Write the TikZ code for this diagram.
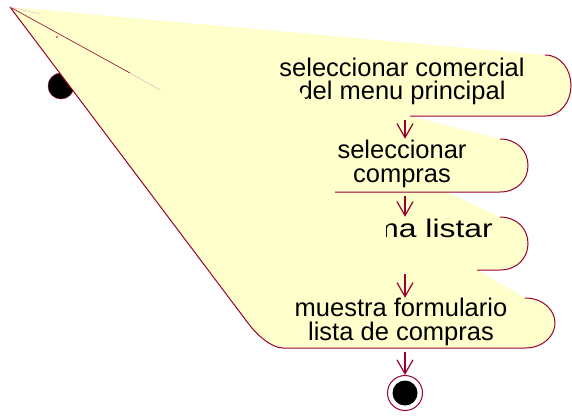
\documentclass[tikz,border=0pt]{standalone}
\usepackage{fontspec}
\setmainfont{Liberation Sans}
\usetikzlibrary{arrows.meta}
\definecolor{roseline}{RGB}{153,0,51}
\definecolor{rosefill}{RGB}{255,255,204}

\begin{document}
\begin{tikzpicture}[x=1pt, y=-1pt,
    edge/.style={roseline, line width=1pt},
    flow/.style={roseline, line width=1.2pt, shorten <=4pt,
      -{Straight Barb[length=14pt, width=16pt, line width=1.2pt]}},
    actbox/.style={inner sep=0pt, minimum width=150pt},
    acttext/.style={inner sep=0pt, align=center, font=\fontsize{25.5}{23.5}\selectfont},
    patch/.style={fill=rosefill, draw=none}]
    \useasboundingbox (0,0) rectangle (572,416);

    % initial state, half hidden by the fill
    \node[circle, draw=roseline, fill=black, minimum size=26pt, inner sep=0pt] (ini) at (61,86) {};

    % the broken fill of the activities
    \fill[rosefill] (10,7) -- (545,55)
        .. controls (561,55) and (571,70) .. (571,85.5)
        .. controls (571,101) and (561,116) .. (545,116) -- (410,116) -- (500,139)
        .. controls (517,139) and (528,151) .. (528,165.5)
        .. controls (528,180) and (517,192) .. (500,192) -- (447,192) -- (500,217)
        .. controls (517,217) and (528,229) .. (528,243.5)
        .. controls (528,258) and (517,270) .. (500,270) -- (477,270) -- (525,298)
        .. controls (543,298) and (555,310) .. (555,323)
        .. controls (555,336) and (543,348) .. (525,348) -- (283,348)
        .. controls (271,348) and (256,334) .. (248,323) -- cycle;

    % outlines
    \draw[edge] (545,55) .. controls (561,55) and (571,70) .. (571,85.5)
        .. controls (571,101) and (561,116) .. (545,116) -- (410,116);
    \draw[edge] (500,139) .. controls (517,139) and (528,151) .. (528,165.5)
        .. controls (528,180) and (517,192) .. (500,192) -- (335,192);
    \draw[edge] (500,217) .. controls (517,217) and (528,229) .. (528,243.5)
        .. controls (528,258) and (517,270) .. (500,270) -- (477,270);
    \draw[edge] (525,298) .. controls (543,298) and (555,310) .. (555,323)
        .. controls (555,336) and (543,348) .. (525,348) -- (283,348)
        .. controls (271,348) and (256,334) .. (248,323) -- (10,7);
    \draw[roseline, line width=0.6pt] (10,7) -- (130,73);
    \draw[roseline!30, line width=0.5pt] (130,73) -- (160,90);
    \draw[roseline!25, line width=0.5pt] (10,7) -- (40,14);
    \fill[roseline] (57,37) circle (0.8pt);

    % activities
    \node[actbox, minimum height=61pt] (sel1) at (405,85.5) {};
    \node[actbox, minimum height=53pt] (sel2) at (405,165.5) {};
    \node[actbox, minimum height=53pt] (lst) at (405,243.5) {};
    \node[actbox, minimum height=50pt] (frm) at (405,323) {};

    \node[acttext] (sel1t) at (402,81.5) {seleccionar comercial\\del menu principal};
    \node[acttext] (sel2t) at (402,164) {seleccionar\\compras};
    \node[acttext, anchor=base east] (lstt) at (493,237) {\scalebox{1.25}[1]{ma listar}};
    \node[acttext] (frmt) at (401,322) {muestra formulario\\lista de compras};

    % fill drawn over the text
    \fill[patch] (296,86) -- (296,104) -- (309,104) -- cycle;
    \fill[patch] (365,216) -- (386,216) -- (386,242) -- (365,242) -- cycle;

    % final state
    \node[circle, draw=roseline, line width=1pt, fill=white, minimum size=35pt, inner sep=0pt] (fin) at (405,393) {};
    \fill[black] (fin.center) circle (12.5pt);

    \draw[flow] (sel1) -- (sel2);
    \draw[flow] (sel2) -- (lst);
    \draw[flow] (lst) -- (frm);
    \draw[flow] (frm) -- (fin);
\end{tikzpicture}
\end{document}
